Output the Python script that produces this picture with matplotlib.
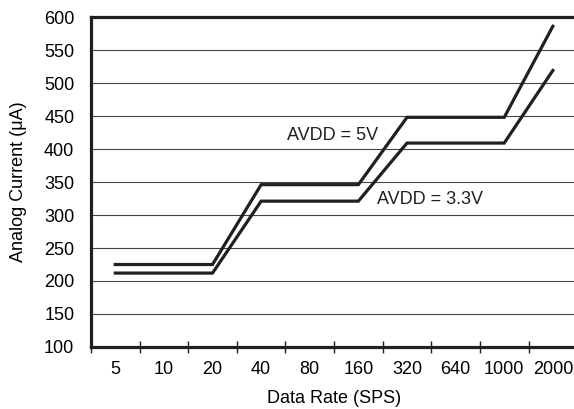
import numpy as np
import matplotlib.pyplot as plt

plt.rcParams['font.family'] = ['Liberation Sans', 'DejaVu Sans']

rates = ['5', '10', '20', '40', '80', '160', '320', '640', '1000', '2000']
avdd_5v = [225, 225, 225, 346, 346, 346, 448, 448, 448, 586]
avdd_33v = [212, 212, 212, 321, 321, 321, 409, 409, 409, 519]

x = np.arange(len(rates))

fig = plt.figure(figsize=(5.74, 4.09), dpi=100)
ax = fig.add_axes([0.1585, 0.1516, 0.847, 0.8068])

ax.plot(x, avdd_5v, color='#231f20', lw=2.3, solid_joinstyle='miter')
ax.plot(x, avdd_33v, color='#231f20', lw=2.3, solid_joinstyle='miter')

ax.set_xlim(-0.5, len(rates) - 0.5)
ax.set_ylim(100, 600)
ax.set_yticks(np.arange(100, 601, 50))
ax.yaxis.grid(True, color='#444444', lw=0.8)
ax.set_axisbelow(True)

# category labels at centres, tick marks at boundaries
ax.set_xticks(x)
ax.set_xticklabels(rates)
ax.tick_params(axis='x', length=0, pad=10, labelsize=13)
ax.set_xticks(np.arange(len(rates)) - 0.5, minor=True)
ax.tick_params(axis='x', which='minor', direction='inout', length=9, width=1.0, color='#231f20')
ax.tick_params(axis='y', length=0, pad=12, labelsize=13)

for side in ['left', 'bottom', 'top']:
    ax.spines[side].set_linewidth(2.3)
    ax.spines[side].set_color('#231f20')
ax.spines['right'].set_visible(False)

ax.text(3.54, 421, 'AVDD = 5V', fontsize=13, color='#231f20', va='center')
ax.text(5.39, 323, 'AVDD = 3.3V', fontsize=13, color='#231f20', va='center')

ax.set_xlabel('Data Rate (SPS)', fontsize=13, labelpad=9)
ax.set_ylabel('Analog Current (\u03bcA)', fontsize=13, labelpad=12)

fig.savefig('out.png', dpi=100)
